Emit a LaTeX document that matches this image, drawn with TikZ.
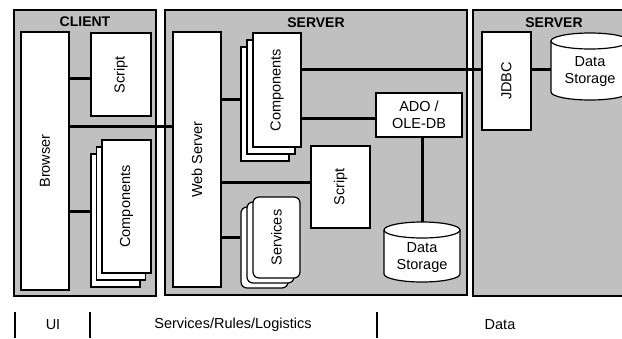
\documentclass[tikz,border=0pt]{standalone}
\usepackage{fontspec}
\setmainfont{Liberation Sans}
\usetikzlibrary{fit}
\definecolor{panelgray}{HTML}{C0C0C0}
\begin{document}
\begin{tikzpicture}[x=1pt,y=-1pt,
  panel/.style={draw=black, line width=1.3pt, fill=panelgray, inner sep=0pt},
  box/.style={draw=black, line width=1.2pt, fill=white, inner sep=0pt},
  rbox/.style={box, rounded corners=6pt},
  conn/.style={line width=3pt},
  lbl/.style={font=\fontsize{14.5}{17}\selectfont, align=center},
  vlbl/.style={lbl, rotate=90},
  ttl/.style={font=\bfseries\fontsize{14}{16}\selectfont},
  sep/.style={line width=1.2pt}]
\useasboundingbox (0,0) rectangle (622,338);

% panels
\node[panel, fit={(14,10) (156,296)}] (client) {};
\node[ttl] (clientlbl) at (85,22) {CLIENT};
\node[panel, fit={(165,10) (467,295)}] (server) {};
\node[ttl] (serverlbl) at (316,23) {SERVER};
\node[panel, fit={(473,10) (640,296)}] (server2) {};
\node[ttl] (server2lbl) at (554,23) {SERVER};

% client
\node[box, fit={(21,32) (69,290)}] (browser) {};
\node[vlbl] at (browser.center) {Browser};
\node[box, fit={(91,33) (151,116)}] (cscript) {};
\node[vlbl] at (cscript.center) {Script};
\node[box, fit={(91,154) (140,287)}] (ccomp3) {};
\node[box, fit={(96.5,147) (145.5,280)}] (ccomp2) {};
\node[box, fit={(102,140) (151,273)}] (ccomp1) {};
\node[vlbl] at (ccomp1.center) {Components};

% server
\node[box, fit={(173,32) (221,287)}] (webserver) {};
\node[vlbl] at (webserver.center) {Web Server};
\node[box, fit={(241,47) (289,161)}] (scomp3) {};
\node[box, fit={(247,40) (295,154)}] (scomp2) {};
\node[box, fit={(253,33) (301,147)}] (scomp1) {};
\node[vlbl] at (scomp1.center) {Components};
\node[box, fit={(376,93) (462,137)}] (ado) {};
\node[lbl] at (ado.center) {ADO /\\OLE-DB};
\node[box, fit={(311,146) (370,228)}] (sscript) {};
\node[vlbl] at (sscript.center) {Script};
\node[rbox, fit={(241,207) (288,288)}] (serv3) {};
\node[rbox, fit={(247,202) (294,283)}] (serv2) {};
\node[rbox, fit={(253,197) (300,278)}] (serv1) {};
\node[vlbl] at (serv1.center) {Services};

% server data storage cylinder
\path[draw=black, line width=1.2pt, fill=white]
  (384,230) -- (384,274) arc[start angle=180, end angle=360, x radius=38pt, y radius=8pt]
  -- (460,230) arc[start angle=0, end angle=180, x radius=38pt, y radius=8pt] -- cycle;
\draw[line width=1.2pt] (384,230) arc[start angle=180, end angle=360, x radius=38pt, y radius=8pt];
\coordinate (dbtop) at (422,222);
\node[lbl] (db1) at (422,258) {Data\\Storage};

% right server
\node[box, fit={(482,32) (531,130)}] (jdbc) {};
\node[vlbl] at (jdbc.center) {JDBC};
\path[draw=black, line width=1.2pt, fill=white]
  (551,41) -- (551,92) arc[start angle=180, end angle=360, x radius=39pt, y radius=8pt]
  -- (629,41) arc[start angle=0, end angle=180, x radius=39pt, y radius=8pt] -- cycle;
\draw[line width=1.2pt] (551,41) arc[start angle=180, end angle=360, x radius=39pt, y radius=8pt];
\coordinate (dsleft) at (551,69);
\node[lbl] (db2) at (590,72) {Data\\Storage};

% connectors
\draw[conn] (browser.east |- 0,78) -- (cscript.west |- 0,78);
\draw[conn] (browser.east |- 0,126) -- (webserver.west |- 0,126);
\draw[conn] (browser.east |- 0,211) -- (ccomp3.west |- 0,211);
\draw[conn] (webserver.east |- 0,99) -- (scomp3.west |- 0,99);
\draw[conn] (scomp1.east |- 0,69) -- (jdbc.west |- 0,69);
\draw[conn] (scomp1.east |- 0,118) -- (ado.west |- 0,118);
\draw[conn] (webserver.east |- 0,182) -- (sscript.west |- 0,182);
\draw[conn] (webserver.east |- 0,237) -- (serv3.west |- 0,237);
\draw[conn] (ado.south -| dbtop) -- (dbtop);
\draw[conn] (jdbc.east |- dsleft) -- (dsleft);

% bottom tiers
\coordinate (s1t) at (15,312); \coordinate (s1b) at (15,338);
\coordinate (s2t) at (90,312); \coordinate (s2b) at (90,338);
\coordinate (s3t) at (377,312); \coordinate (s3b) at (377,338);
\draw[sep] (s1t) -- (s1b);
\draw[sep] (s2t) -- (s2b);
\draw[sep] (s3t) -- (s3b);
\node[lbl] (ui) at (53,325) {UI};
\node[lbl] (srl) at (233,325) {Services/Rules/Logistics};
\node[lbl] (data) at (500,325) {Data};
\end{tikzpicture}
\end{document}
